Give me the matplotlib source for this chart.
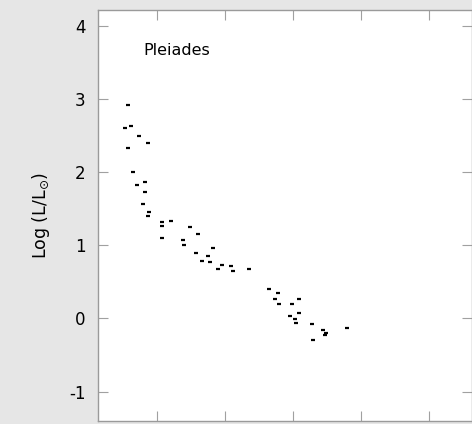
import matplotlib
matplotlib.use("Agg")
import matplotlib.pyplot as plt

# Colour index (arbitrary tick units) and log luminosity of Pleiades stars
color_index = [-0.43, -0.38, -0.47, -0.26, -0.13, -0.42, -0.35, -0.30, -0.18, -0.18,
               -0.20, -0.12, -0.14, 0.08, 0.20, 0.07, 0.08, 0.49, 0.60, 0.38,
               0.39, 0.57, 0.82, 0.75, 0.66, 0.78, 0.90, 0.96, 1.08, 1.12,
               1.35, 1.65, 1.78, 1.74, 1.80, 1.98, 2.08, 2.08, 1.96, 2.03,
               2.05, 2.28, 2.44, 2.49, 2.47, 2.30, 2.79]
log_lum = [2.92, 2.63, 2.60, 2.50, 2.40, 2.33, 2.00, 1.82, 1.87, 1.73,
           1.57, 1.46, 1.40, 1.32, 1.33, 1.26, 1.10, 1.25, 1.15, 1.08,
           1.00, 0.90, 0.96, 0.86, 0.79, 0.77, 0.68, 0.73, 0.72, 0.65,
           0.68, 0.40, 0.35, 0.27, 0.20, 0.20, 0.27, 0.08, 0.03, -0.01,
           -0.06, -0.07, -0.16, -0.20, -0.23, -0.30, -0.13]

x_ticks = [0, 1, 2, 3, 4]
y_ticks = [-1, 0, 1, 2, 3, 4]
y_tick_labels = ["-1", "0", "1", "2", "3", "4"]

fig = plt.figure(figsize=(4.72, 4.24), dpi=100, facecolor="#e6e6e6")
ax = fig.add_axes([0.2076, 0.0075, 0.7924, 0.969])
ax.set_facecolor("white")

ax.plot(color_index, log_lum, linestyle="none", marker="_", markersize=3.5,
        markeredgewidth=1.6, color="black")

ax.set_xlim(-0.868, 4.63)
ax.set_ylim(-1.40, 4.22)
ax.set_xticks(x_ticks)
ax.set_xticklabels([])
ax.set_yticks(y_ticks)
ax.set_yticklabels(y_tick_labels)
ax.tick_params(direction="in", length=7, color="#a0a0a0", top=True, right=True,
               labelsize=12, pad=9, labelcolor="black")
for s in ax.spines.values():
    s.set_color("#9a9a9a")
    s.set_linewidth(1.0)

ax.set_ylabel("Log (L/L$_{\\odot}$)", fontsize=12.5, labelpad=12)
ax.text(-0.2, 3.66, "Pleiades", fontsize=11.5, ha="left", va="center")

fig.savefig("out.png", dpi=100, facecolor=fig.get_facecolor())
